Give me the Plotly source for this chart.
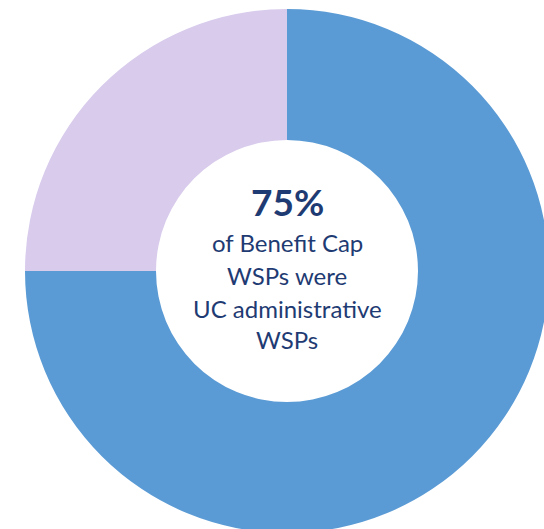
import plotly.graph_objects as go

labels = ["UC administrative WSPs", "Other WSPs"]
values = [75, 25]
colors = ["#5B9BD5", "#D8CBEC"]
headline = "75%"
caption_lines = ["of Benefit Cap", "WSPs were", "UC administrative", "WSPs"]

W, H = 560, 548
cx, cy, R = 287, 271, 262  # pixel geometry of donut

fig = go.Figure(go.Pie(
    labels=labels,
    values=values,
    marker=dict(colors=colors, line=dict(width=0)),
    hole=0.5,
    sort=False,
    direction="clockwise",
    rotation=0,
    textinfo="none",
    hoverinfo="label+percent",
    showlegend=False,
    domain=dict(x=[(cx - R) / W, (cx + R) / W],
                y=[1 - (cy + R) / H, 1 - (cy - R) / H]),
))

text_color = "#1F3B73"
annotations = [dict(text="<b>" + headline + "</b>", x=cx / W, y=1 - 201 / H,
                    xref="paper", yref="paper", showarrow=False,
                    xanchor="center", yanchor="middle",
                    font=dict(family="Lato", size=37, color=text_color))]
line_y = [243, 275, 308, 339]
for t, ypx in zip(caption_lines, line_y):
    annotations.append(dict(text=t, x=cx / W, y=1 - ypx / H,
                            xref="paper", yref="paper", showarrow=False,
                            xanchor="center", yanchor="middle",
                            font=dict(family="Lato", size=24, color=text_color)))

fig.update_layout(
    width=W, height=H,
    margin=dict(l=0, r=0, t=0, b=0),
    paper_bgcolor="white",
    plot_bgcolor="white",
    annotations=annotations,
)

fig.write_html("out.html",
               config={"displayModeBar": False},
               post_script="document.body.style.margin='0';document.body.style.overflow='hidden';")
